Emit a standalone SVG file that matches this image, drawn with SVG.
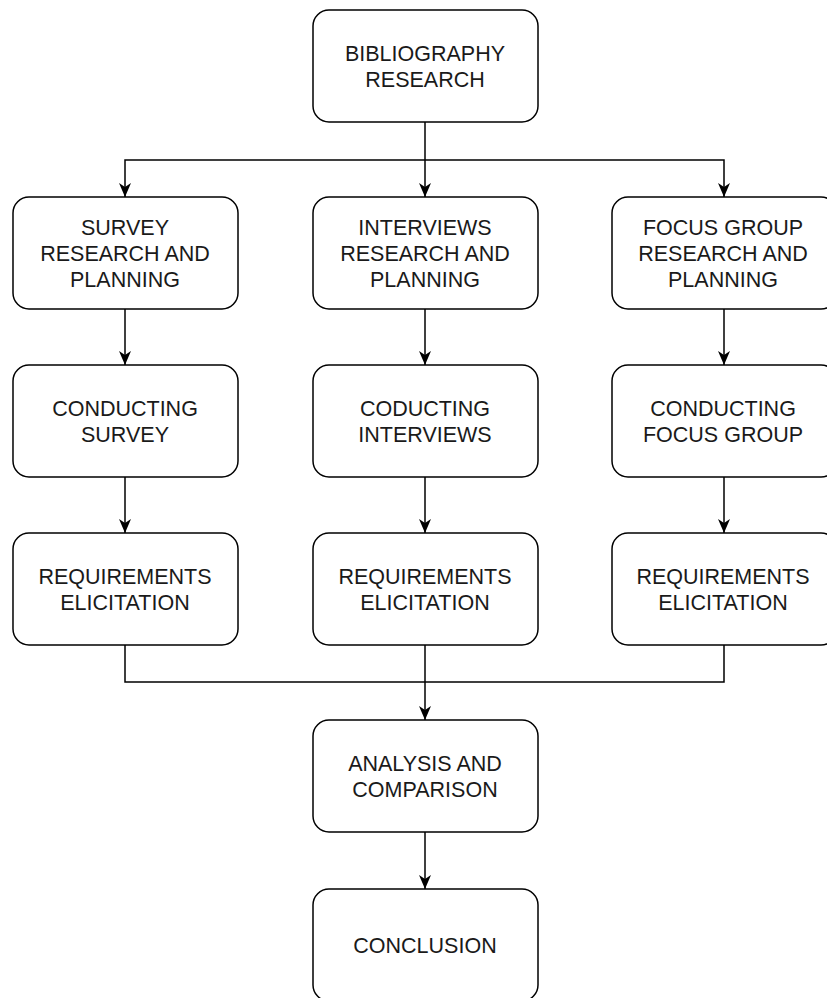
<svg xmlns="http://www.w3.org/2000/svg" width="827" height="998" viewBox="0 0 827 998">
<style>
.box{fill:#fff;stroke:#000;stroke-width:1.5}
.t{font-family:"Liberation Sans",Arial,Helvetica,sans-serif;font-size:21.5px;fill:#1a1a1a;text-anchor:middle}
.c{fill:none;stroke:#000;stroke-width:1.5}
</style>
<defs>
<marker id="arr" markerUnits="userSpaceOnUse" markerWidth="14" markerHeight="12" viewBox="0 0 14 12" refX="14" refY="6" orient="auto">
<path d="M0,0 L14,6 L0,12 L4,6 Z" fill="#000"/>
</marker>
</defs>
<rect width="827" height="998" fill="#fff"/>
<g id="connectors">
<path class="c" d="M425,122 V197" marker-end="url(#arr)"/>
<path class="c" d="M425,160 H125 V197" marker-end="url(#arr)"/>
<path class="c" d="M425,160 H724 V197" marker-end="url(#arr)"/>
<path class="c" d="M125,309 V365" marker-end="url(#arr)"/>
<path class="c" d="M425,309 V365" marker-end="url(#arr)"/>
<path class="c" d="M724,309 V365" marker-end="url(#arr)"/>
<path class="c" d="M125,477 V533" marker-end="url(#arr)"/>
<path class="c" d="M425,477 V533" marker-end="url(#arr)"/>
<path class="c" d="M724,477 V533" marker-end="url(#arr)"/>
<path class="c" d="M125,645 V682 H425"/>
<path class="c" d="M724,645 V682 H425"/>
<path class="c" d="M425,645 V720" marker-end="url(#arr)"/>
<path class="c" d="M425,832 V889" marker-end="url(#arr)"/>
</g>
<g id="bibliography">
<rect class="box" x="313" y="10" width="225" height="112" rx="16"/>
<text class="t" x="425" y="61">BIBLIOGRAPHY</text>
<text class="t" x="425" y="87">RESEARCH</text>
</g>
<g id="survey-planning">
<rect class="box" x="13" y="197" width="225" height="112" rx="16"/>
<text class="t" x="125" y="235">SURVEY</text>
<text class="t" x="125" y="261">RESEARCH AND</text>
<text class="t" x="125" y="287">PLANNING</text>
</g>
<g id="interviews-planning">
<rect class="box" x="313" y="197" width="225" height="112" rx="16"/>
<text class="t" x="425" y="235">INTERVIEWS</text>
<text class="t" x="425" y="261">RESEARCH AND</text>
<text class="t" x="425" y="287">PLANNING</text>
</g>
<g id="focus-planning">
<rect class="box" x="612" y="197" width="225" height="112" rx="16"/>
<text class="t" x="723" y="235">FOCUS GROUP</text>
<text class="t" x="723" y="261">RESEARCH AND</text>
<text class="t" x="723" y="287">PLANNING</text>
</g>
<g id="conducting-survey">
<rect class="box" x="13" y="365" width="225" height="112" rx="16"/>
<text class="t" x="125" y="416">CONDUCTING</text>
<text class="t" x="125" y="442">SURVEY</text>
</g>
<g id="conducting-interviews">
<rect class="box" x="313" y="365" width="225" height="112" rx="16"/>
<text class="t" x="425" y="416">CODUCTING</text>
<text class="t" x="425" y="442">INTERVIEWS</text>
</g>
<g id="conducting-focus">
<rect class="box" x="612" y="365" width="225" height="112" rx="16"/>
<text class="t" x="723" y="416">CONDUCTING</text>
<text class="t" x="723" y="442">FOCUS GROUP</text>
</g>
<g id="req-survey">
<rect class="box" x="13" y="533" width="225" height="112" rx="16"/>
<text class="t" x="125" y="584">REQUIREMENTS</text>
<text class="t" x="125" y="610">ELICITATION</text>
</g>
<g id="req-interviews">
<rect class="box" x="313" y="533" width="225" height="112" rx="16"/>
<text class="t" x="425" y="584">REQUIREMENTS</text>
<text class="t" x="425" y="610">ELICITATION</text>
</g>
<g id="req-focus">
<rect class="box" x="612" y="533" width="225" height="112" rx="16"/>
<text class="t" x="723" y="584">REQUIREMENTS</text>
<text class="t" x="723" y="610">ELICITATION</text>
</g>
<g id="analysis">
<rect class="box" x="313" y="720" width="225" height="112" rx="16"/>
<text class="t" x="425" y="771">ANALYSIS AND</text>
<text class="t" x="425" y="797">COMPARISON</text>
</g>
<g id="conclusion">
<rect class="box" x="313" y="889" width="225" height="112" rx="16"/>
<text class="t" x="425" y="953">CONCLUSION</text>
</g>
</svg>
